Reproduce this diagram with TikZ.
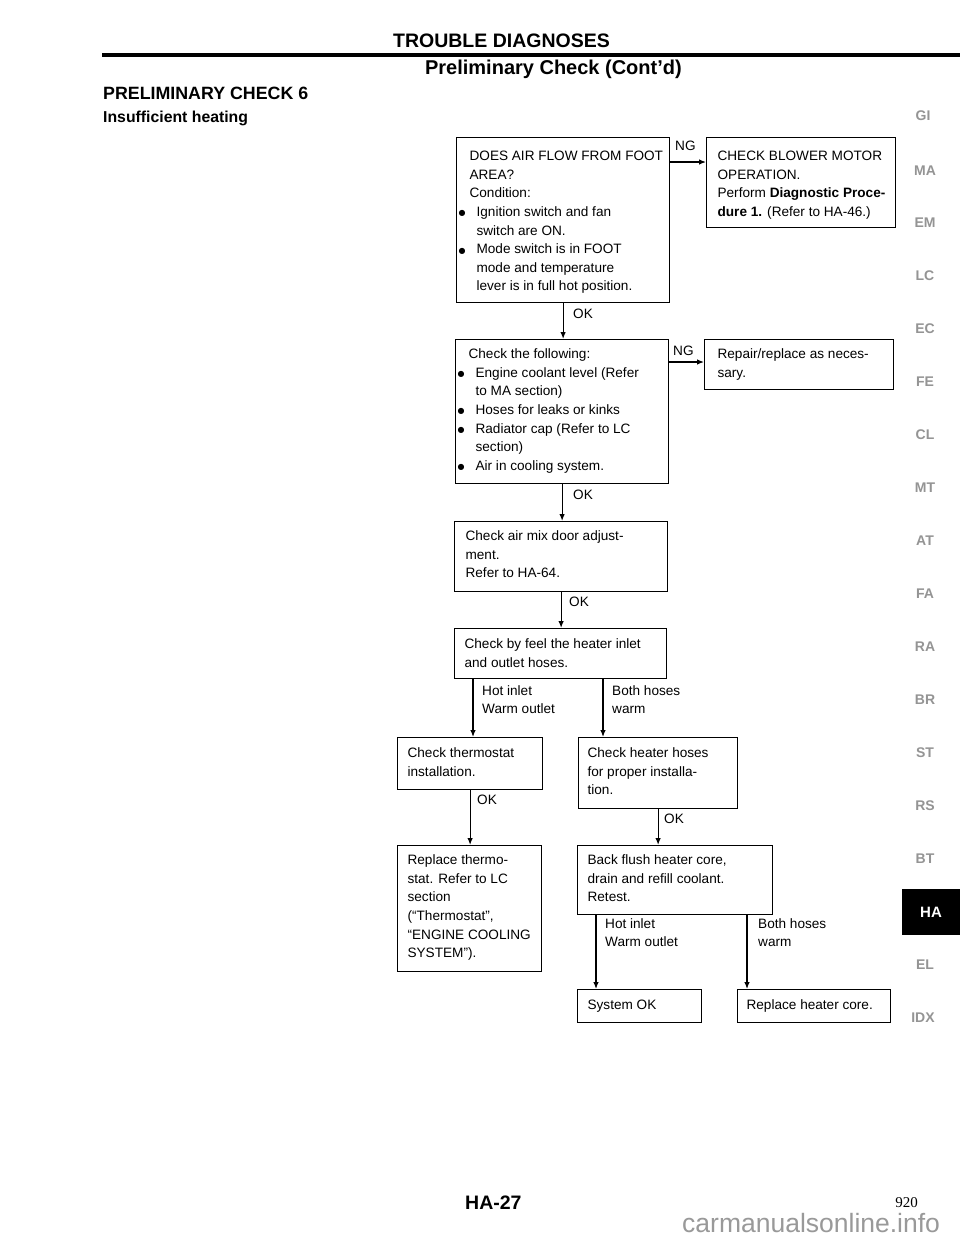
\documentclass[tikz,border=0pt]{standalone}
\usepackage{fontspec}
\setmainfont{Liberation Sans}
\newfontfamily\serifnum{Liberation Serif}
\newfontfamily\dejavu{DejaVu Sans}
\usetikzlibrary{arrows.meta}
\newcommand{\bodyfont}{\fontsize{13.6}{18.6}\selectfont}
\newcommand{\boxtxt}[5]{\parbox[c][#2][t]{#1}{\raggedright\leftskip=#4\relax\rule{0pt}{#3}\ignorespaces#5}}
\newcommand{\bul}{\hspace*{7pt}\llap{\raisebox{0.6pt}{\dejavu\fontsize{8}{8}\selectfont ●}\hspace{11pt}}}
\newcommand{\ind}{\hspace*{7pt}}
\newcommand{\twolines}[1]{\begin{tabular}[t]{@{}l@{}}#1\end{tabular}}
\tikzset{
  box/.style={draw, line width=1.2pt, inner sep=0pt, anchor=north west, font=\bodyfont},
  lbl/.style={inner sep=0pt, anchor=base west, font=\bodyfont},
  arr/.style={line width=1.2pt, -{Latex[length=7pt,width=5.5pt]}},
  tab/.style={inner sep=0pt, anchor=center, text=black!42, font=\bfseries\fontsize{14}{14}\selectfont},
}
\begin{document}
\begin{tikzpicture}[x=1pt,y=-1pt]
\useasboundingbox (0,0) rectangle (960,1242);
\fill[white] (0,0) rectangle (960,1242);

% header
\node[inner sep=0pt, anchor=base, font=\bfseries\fontsize{19.5}{20}\selectfont] (title) at (501.5,47) {TROUBLE DIAGNOSES};
\draw[line width=4pt] (102,54.5) -- (960,54.5);
\node[inner sep=0pt, anchor=base east, font=\bfseries\fontsize{20}{20}\selectfont] (sub) at (682,74) {Preliminary Check (Cont’d)};
\node[inner sep=0pt, anchor=base west, font=\bfseries\fontsize{17.8}{18}\selectfont] (pc) at (103,99.5) {PRELIMINARY CHECK 6};
\node[inner sep=0pt, anchor=base west, font=\bfseries\fontsize{15.8}{16}\selectfont] (ih) at (103,122.5) {Insufficient heating};

% boxes
\node[box] (b1) at (456,137) {\boxtxt{213pt}{165pt}{23pt}{13pt}{DOES AIR FLOW FROM FOOT\\AREA?\\Condition:\\\bul Ignition switch and fan\\\ind switch are ON.\\\bul Mode switch is in FOOT\\\ind mode and temperature\\\ind lever is in full hot position.}};
\node[box] (blower) at (706,137) {\boxtxt{189pt}{90pt}{23pt}{11pt}{CHECK BLOWER MOTOR\\OPERATION.\\Perform \textbf{Diagnostic Proce-}\\\textbf{dure 1.} (Refer to HA-46.)}};
\node[box] (b2) at (455,339) {\boxtxt{213pt}{144pt}{19pt}{13pt}{Check the following:\\\bul Engine coolant level (Refer\\\ind to MA section)\\\bul Hoses for leaks or kinks\\\bul Radiator cap (Refer to LC\\\ind section)\\\bul Air in cooling system.}};
\node[box] (repair) at (704,339) {\boxtxt{189pt}{50pt}{19pt}{13pt}{Repair/replace as neces-\\sary.}};
\node[box] (b3) at (454,521) {\boxtxt{213pt}{70pt}{19pt}{11pt}{Check air mix door adjust-\\ment.\\Refer to HA-64.}};
\node[box] (b4) at (454,628) {\boxtxt{212pt}{50pt}{20pt}{10pt}{Check by feel the heater inlet\\and outlet hoses.}};
\node[box] (b5) at (397,737) {\boxtxt{145pt}{52pt}{20pt}{10pt}{Check thermostat\\installation.}};
\node[box] (b6) at (578,737) {\boxtxt{159pt}{71pt}{20pt}{9pt}{Check heater hoses\\for proper installa-\\tion.}};
\node[box] (b7) at (397,845) {\boxtxt{144pt}{126pt}{19pt}{10pt}{Replace thermo-\\stat. Refer to LC\\section\\(“Thermostat”,\\“ENGINE COOLING\\SYSTEM”).}};
\node[box] (b8) at (577,845) {\boxtxt{195pt}{69pt}{19pt}{10pt}{Back flush heater core,\\drain and refill coolant.\\Retest.}};
\node[box] (b9) at (577,989) {\boxtxt{124pt}{33pt}{20pt}{10pt}{System OK}};
\node[box] (b10) at (737,989) {\boxtxt{153pt}{33pt}{20pt}{9pt}{Replace heater core.}};

% connectors
\draw[arr] ([yshift=-25pt]b1.north east) -- ([yshift=-25pt]blower.north west);
\node[lbl] (ng1) at (675,150) {NG};
\draw[arr] (b1.south) -- (b1.south |- b2.north);
\node[lbl] (ok1) at (573,318) {OK};
\draw[arr] ([yshift=-23pt]b2.north east) -- ([yshift=-23pt]repair.north west);
\node[lbl] (ng2) at (673,355) {NG};
\draw[arr] (b2.south) -- (b2.south |- b3.north);
\node[lbl] (ok2) at (573,499) {OK};
\draw[arr] (b3.south) -- (b3.south |- b4.north);
\node[lbl] (ok3) at (569,606) {OK};
\draw[arr] ([xshift=19pt]b4.south west) -- ([xshift=19pt]b4.south west |- b5.north);
\node[lbl] (hw1) at (482,695) {\twolines{Hot inlet\\Warm outlet}};
\draw[arr] ([xshift=149pt]b4.south west) -- ([xshift=149pt]b4.south west |- b6.north);
\node[lbl] (bw1) at (612,695) {\twolines{Both hoses\\warm}};
\draw[arr] (b5.south) -- (b5.south |- b7.north);
\node[lbl] (ok4) at (477,804) {OK};
\draw[arr] (b6.south) -- (b6.south |- b8.north);
\node[lbl] (ok5) at (664,823) {OK};
\draw[arr] ([xshift=19pt]b8.south west) -- ([xshift=19pt]b8.south west |- b9.north);
\node[lbl] (hw2) at (605,928) {\twolines{Hot inlet\\Warm outlet}};
\draw[arr] ([xshift=170pt]b8.south west) -- ([xshift=170pt]b8.south west |- b10.north);
\node[lbl] (bw2) at (758,928) {\twolines{Both hoses\\warm}};

% side tabs
\node[tab] (tGI) at (923,116) {GI};
\node[tab] (tMA) at (925,171) {MA};
\node[tab] (tEM) at (925,223) {EM};
\node[tab] (tLC) at (925,276) {LC};
\node[tab] (tEC) at (925,329) {EC};
\node[tab] (tFE) at (925,382) {FE};
\node[tab] (tCL) at (925,435) {CL};
\node[tab] (tMT) at (925,488) {MT};
\node[tab] (tAT) at (925,541) {AT};
\node[tab] (tFA) at (925,594) {FA};
\node[tab] (tRA) at (925,647) {RA};
\node[tab] (tBR) at (925,700) {BR};
\node[tab] (tST) at (925,753) {ST};
\node[tab] (tRS) at (925,806) {RS};
\node[tab] (tBT) at (925,859) {BT};
\node[fill=black, text=white, inner sep=0pt, minimum width=58pt, minimum height=46pt, font=\bfseries\fontsize{15}{15}\selectfont] (tHA) at (931,912) {HA};
\node[tab] (tEL) at (925,965) {EL};
\node[tab] (tIDX) at (923,1018) {IDX};

% footer
\node[inner sep=0pt, anchor=base west, font=\bfseries\fontsize{19.5}{20}\selectfont] (pg) at (465,1209) {HA-27};
\node[inner sep=0pt, anchor=base east, font=\serifnum\fontsize{15}{15}\selectfont] (num) at (918,1207) {920};
\node[inner sep=0pt, anchor=base west, text=black!40, font=\fontsize{26.5}{27}\selectfont] (wm) at (682,1232) {carmanualsonline.info};
\end{tikzpicture}
\end{document}
